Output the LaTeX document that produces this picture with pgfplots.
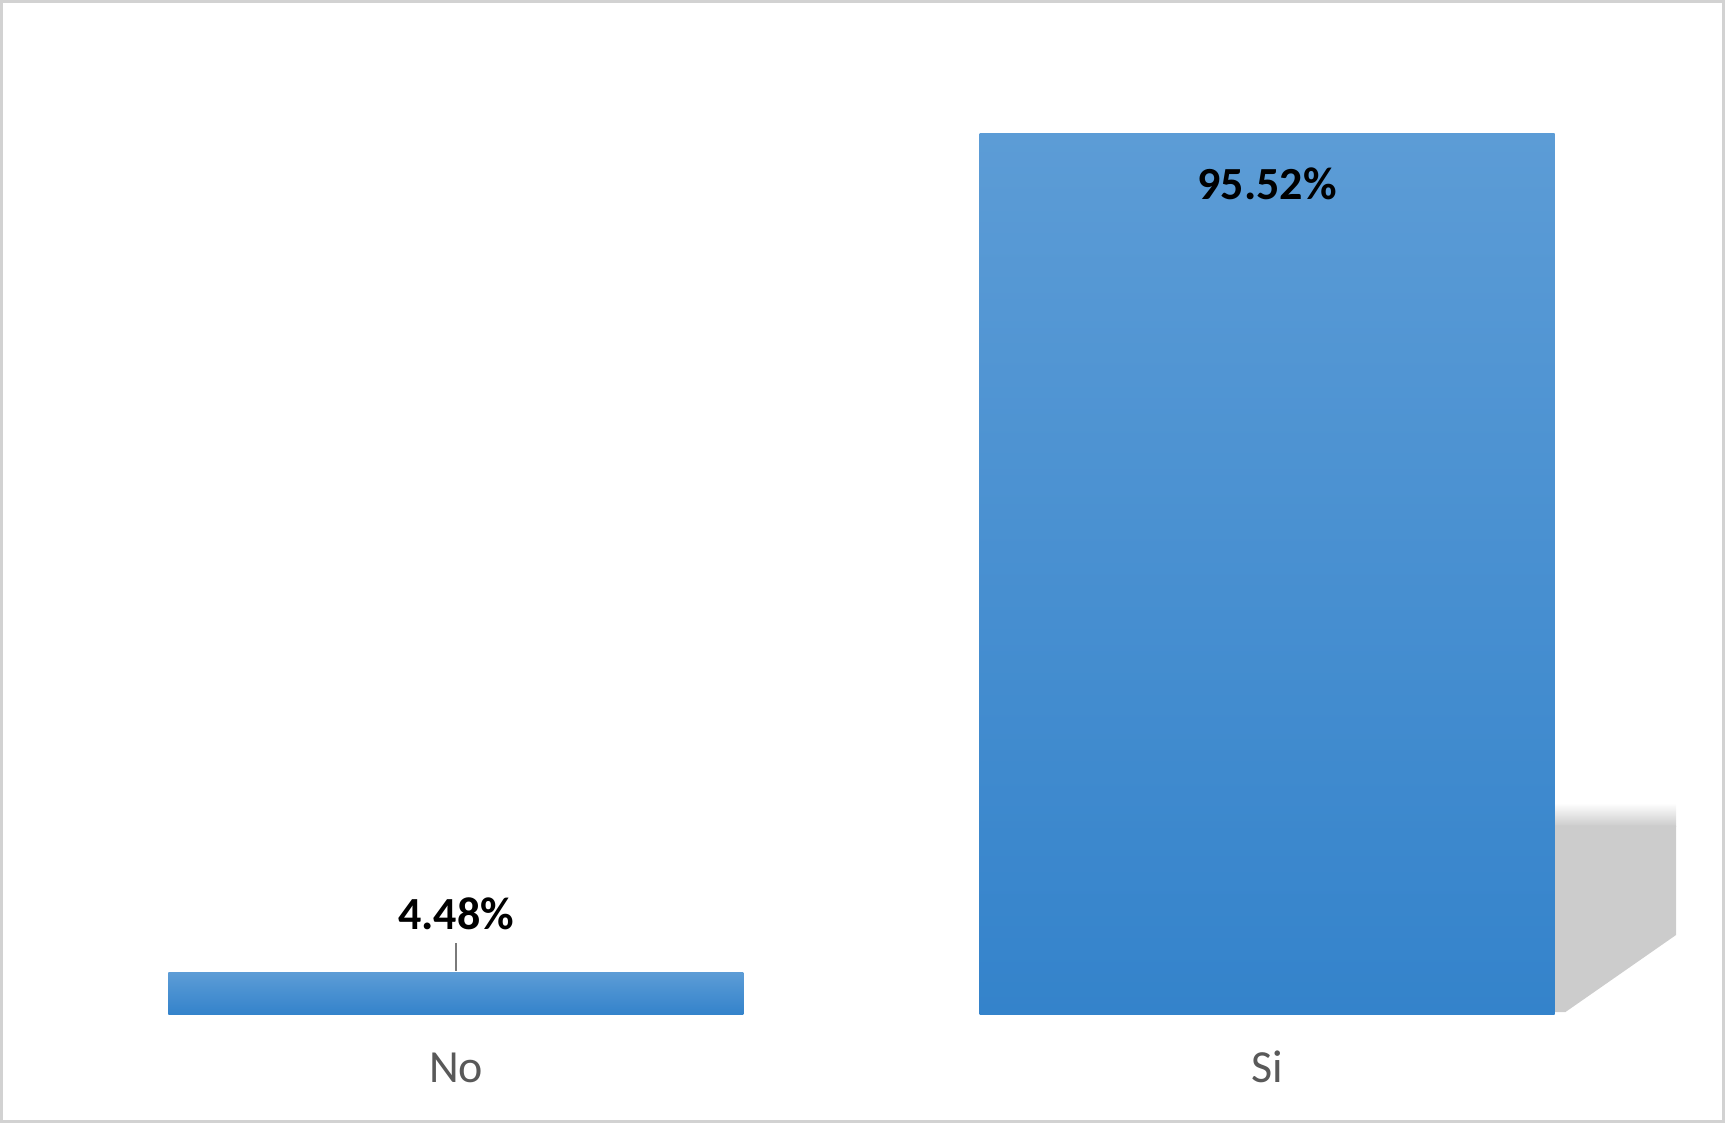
\documentclass[border=0pt]{standalone}
\usepackage{pgfplots}
\pgfplotsset{compat=1.18}
\usepackage{fontspec}
\setmainfont{Carlito}
\definecolor{bartop}{RGB}{92,156,214}
\definecolor{barbot}{RGB}{52,131,203}
\definecolor{lbl}{RGB}{89,89,89}
\definecolor{frame}{RGB}{210,210,210}
\definecolor{shadow}{RGB}{204,204,204}
\begin{document}
\begin{tikzpicture}
\begin{axis}[
  scale only axis,
  width=862.5pt, height=507pt,
  xmin=-0.5623, xmax=1.5647,
  ymin=0, ymax=110.06,
  axis lines=none,
  clip=false,
  xtick={0,1}, xticklabels={No,Si},
  ytick=\empty,
  bar width=287.5pt,
  /pgf/number format/assume math mode=true,
]
% frame
\draw[frame, line width=1.5pt] (axis cs:-0.5604,-11.669) rectangle (axis cs:1.5629,109.90);
% category labels
\node[lbl, font=\fontsize{23}{27}\selectfont, anchor=base] at ([yshift=-34pt]axis cs:0,0) {No};
\node[lbl, font=\fontsize{23}{27}\selectfont, anchor=base] at ([yshift=-34pt]axis cs:1,0) {Si};
% shadow of the tall bar
\shade[top color=white, bottom color=shadow, draw=none] (axis cs:1.3551,22.9) rectangle (axis cs:1.5043,20.4);
\fill[shadow] (axis cs:1.3551,20.42) -- (axis cs:1.5043,20.42) -- (axis cs:1.5043,8.575) -- (axis cs:1.368,0.217) -- (axis cs:1.3551,0.217) -- cycle;
% bars
\addplot[ybar, draw=none, top color=bartop, bottom color=barbot, bar shift=0pt,
  nodes near coords={\pgfmathprintnumber[fixed,precision=2,fixed zerofill]{\pgfplotspointmeta}\%},
  nodes near coords style={font=\fontsize{23}{27}\selectfont\bfseries, black, anchor=base, yshift=25pt-0.333em}]
  coordinates {(0,4.48)};
\addplot[ybar, draw=none, top color=bartop, bottom color=barbot, bar shift=0pt,
  nodes near coords={\pgfmathprintnumber[fixed,precision=2,fixed zerofill]{\pgfplotspointmeta}\%},
  nodes near coords style={font=\fontsize{23}{27}\selectfont\bfseries, black, anchor=base, yshift=-33pt}]
  coordinates {(1,95.52)};
% leader line
\draw[lbl!80, line width=1pt] ([yshift=1pt]axis cs:0,4.48) -- ([yshift=15pt]axis cs:0,4.48);
\end{axis}
\end{tikzpicture}
\end{document}
